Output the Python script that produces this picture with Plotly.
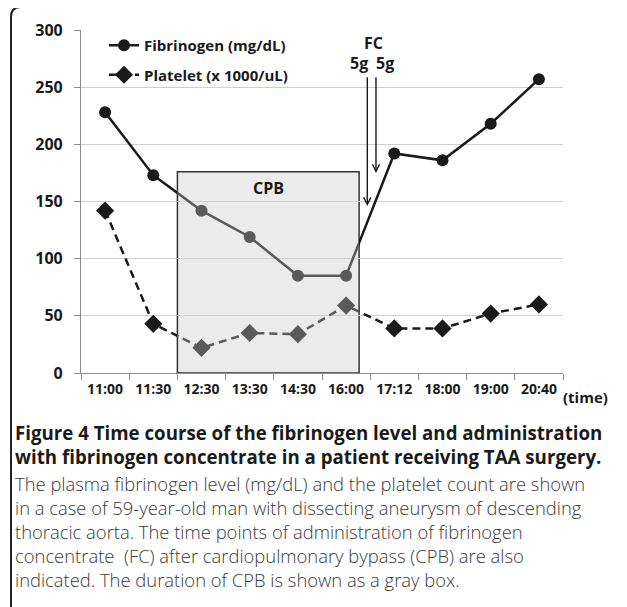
import plotly.graph_objects as go

# ---------------- data ----------------
times = ["11:00", "11:30", "12:30", "13:30", "14:30", "16:00", "17:12", "18:00", "19:00", "20:40"]
fibrinogen = [228, 173, 142, 119, 85, 85, 192, 186, 218, 257]
platelet = [142, 43, 22, 35, 34, 59, 39, 39, 52, 60]
y_ticks = [0, 50, 100, 150, 200, 250, 300]

# CPB period (category units) and FC administration
cpb_start, cpb_end, cpb_top = 1.5, 5.27, 176
fc_x = [5.44, 5.62]
fc_tip = [146, 175]
fc_tail = 260
fc_doses = ["5g", "5g"]

caption_title = ["Figure 4 Time course of the fibrinogen level and administration",
                 "with fibrinogen concentrate in a patient receiving TAA surgery."]
caption_body = ["The plasma fibrinogen level (mg/dL) and the platelet count are shown",
                "in a case of 59-year-old man with dissecting aneurysm of descending",
                "thoracic aorta. The time points of administration of fibrinogen",
                "concentrate  (FC) after cardiopulmonary bypass (CPB) are also",
                "indicated. The duration of CPB is shown as a gray box."]

# ---------------- geometry (page pixels; page body has an 8px margin) ----------------
OFF = 8
W, H = 627 - OFF, 607 - OFF
L, R, T, B = 81 - OFF, 64, 30 - OFF, 234
PW, PH = W - L - R, H - T - B
n = len(times)


def px_x(p):
    return (p - OFF - L) / PW


def px_y(p):
    return (H - B - (p - OFF)) / PH


FONT = "Open Sans"
DARK = "#1a1a1a"
GRAY = "#5a5a5a"

fig = go.Figure()

# invisible trace to set up main category axis
fig.add_trace(go.Scatter(x=times, y=fibrinogen, mode="lines", opacity=0,
                         showlegend=False, hoverinfo="skip"))

regions = [("x2", DARK, True), ("x3", GRAY, False), ("x4", DARK, False)]
for xa, col, leg in regions:
    fig.add_trace(go.Scatter(
        x=times, y=fibrinogen, xaxis=xa, yaxis="y", mode="lines+markers",
        name="Fibrinogen (mg/dL)", showlegend=leg, legendgroup="fib",
        line=dict(color=col, width=2.5),
        marker=dict(symbol="circle", size=12, color=col)))
    fig.add_trace(go.Scatter(
        x=times, y=platelet, xaxis=xa, yaxis="y", mode="lines+markers",
        name="Platelet (x 1000/uL)", showlegend=leg, legendgroup="plt",
        line=dict(color=col, width=2.5, dash="8px,5px"),
        marker=dict(symbol="diamond", size=14, color=col)))

d1 = (cpb_start + 0.5) / n
d2 = (cpb_end + 0.5) / n
common = dict(type="category", categoryorder="array", categoryarray=times,
              visible=False, anchor="y")
fig.update_layout(
    xaxis2=dict(domain=[0, d1], range=[-0.5, cpb_start], **common),
    xaxis3=dict(domain=[d1, d2], range=[cpb_start, cpb_end], **common),
    xaxis4=dict(domain=[d2, 1], range=[cpb_end, n - 0.5], **common),
)

# CPB box
fig.add_shape(type="rect", xref="x", yref="y", x0=cpb_start, x1=cpb_end, y0=0, y1=cpb_top,
              fillcolor="#ebebeb", line=dict(color="#333333", width=1.5), layer="below")

BOLD = dict(family=FONT, color=DARK, weight="bold")
annotations = []
annotations.append(dict(x=3.38, y=162, xref="x", yref="y", text="CPB", showarrow=False,
                        font=dict(size=16, **BOLD)))
for xv, tip in zip(fc_x, fc_tip):
    annotations.append(dict(x=xv, y=tip, ax=xv, ay=fc_tail, xref="x", yref="y",
                            axref="x", ayref="y", text="", showarrow=True,
                            arrowhead=5, arrowsize=1.0, arrowwidth=1.4, arrowcolor=DARK))
annotations.append(dict(x=5.56, y=288.6, xref="x", yref="y", text="FC", showarrow=False,
                        font=dict(size=16, **BOLD)))
for xv, t in zip([5.27, 5.81], fc_doses):
    annotations.append(dict(x=xv, y=271, xref="x", yref="y", text=t, showarrow=False,
                            font=dict(size=16, **BOLD)))
annotations.append(dict(x=px_x(585), y=px_y(397), xref="paper", yref="paper", text="(time)",
                        xanchor="center", yanchor="middle",
                        showarrow=False, font=dict(size=15, **BOLD)))

# caption (two blocks)
annotations.append(dict(x=px_x(13), y=px_y(444.5), xref="paper", yref="paper", xanchor="left",
                        yanchor="middle", align="left", text="<br>".join(caption_title),
                        showarrow=False, font=dict(size=18.7, **BOLD)))
annotations.append(dict(x=px_x(13), y=px_y(531), xref="paper", yref="paper", xanchor="left",
                        yanchor="middle", align="left", text="<br>".join(caption_body),
                        showarrow=False,
                        font=dict(family=FONT, size=18.4, color="#3a3a3a", weight=300)))

# outer rounded frame
fx, fy = px_x(11), px_y(7)
dx, dy = 10 / PW, 10 / PH
frame = (f"M {fx},{px_y(615)} L {fx},{fy - dy} Q {fx},{fy} {fx + dx},{fy} "
         f"L {px_x(640)},{fy}")
fig.add_shape(type="path", xref="paper", yref="paper", path=frame,
              line=dict(color="#222222", width=2))

fig.update_layout(
    width=W, height=H,
    margin=dict(l=L, r=R, t=T, b=B, autoexpand=False),
    paper_bgcolor="white", plot_bgcolor="rgba(0,0,0,0)",
    font=dict(family=FONT, color=DARK),
    showlegend=True,
    legend=dict(x=px_x(104), y=px_y(29), xanchor="left", yanchor="top",
                bgcolor="rgba(0,0,0,0)", font=dict(size=15, **BOLD),
                itemwidth=30, tracegroupgap=7, traceorder="grouped"),
    xaxis=dict(type="category", categoryorder="array", categoryarray=times,
               range=[-0.5, n - 0.5], domain=[0, 1], tickson="boundaries",
               ticks="outside", ticklen=6, tickcolor="#8c8c8c", showgrid=False,
               showline=True, linecolor="#8c8c8c", linewidth=1.2, zeroline=False,
               tickfont=dict(size=14, **BOLD), ticklabelstandoff=3),
    yaxis=dict(range=[0, 300], tickvals=y_ticks, ticks="outside", ticklen=6,
               tickcolor="#8c8c8c", showgrid=True, gridcolor="#cfcfcf", gridwidth=1,
               showline=True, linecolor="#8c8c8c", linewidth=1.2, zeroline=False,
               tickfont=dict(size=16, **BOLD), ticklabelstandoff=8),
    annotations=annotations,
)

fig.write_html("out.html")
